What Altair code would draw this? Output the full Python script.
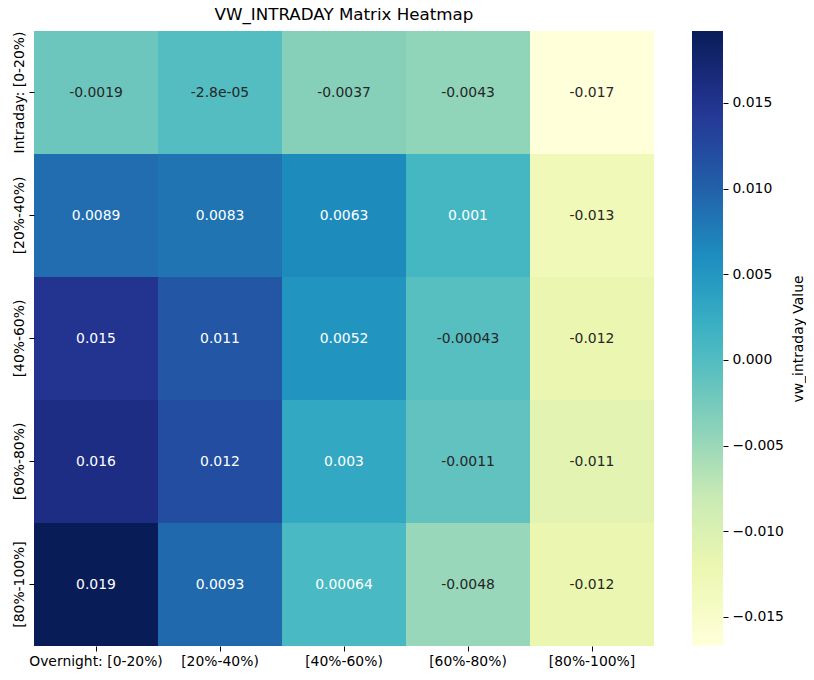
import altair as alt
import pandas as pd

overnight_bins = ["Overnight: [0-20%)", "[20%-40%)", "[40%-60%)", "[60%-80%)", "[80%-100%]"]
intraday_bins = ["Intraday: [0-20%)", "[20%-40%)", "[40%-60%)", "[60%-80%)", "[80%-100%]"]

# one list per intraday row, left to right over the overnight bins
row_0_20 = [-0.0019, -0.000028, -0.0037, -0.0043, -0.0167]
row_20_40 = [0.0089, 0.0083, 0.0063, 0.0010, -0.013]
row_40_60 = [0.015, 0.011, 0.0052, -0.00043, -0.012]
row_60_80 = [0.016, 0.012, 0.0030, -0.0011, -0.011]
row_80_100 = [0.0192, 0.0093, 0.00064, -0.0048, -0.012]

colorbar_ticks = [-0.015, -0.010, -0.005, 0.0, 0.005, 0.010, 0.015]

# colorbrewer YlGnBu, as matplotlib spreads it evenly over the value range
ylgnbu = ["#ffffd9", "#edf8b1", "#c7e9b4", "#7fcdbb", "#41b6c4",
          "#1d91c0", "#225ea8", "#253494", "#081d58"]

matrix = [row_0_20, row_20_40, row_40_60, row_60_80, row_80_100]
records = []
for row_name, row in zip(intraday_bins, matrix):
    for col_name, v in zip(overnight_bins, row):
        records.append({"intraday": row_name, "overnight": col_name,
                        "value": v, "label": format(v, ".2g")})
df = pd.DataFrame(records)

vmin = min(min(r) for r in matrix)
vmax = max(max(r) for r in matrix)
n = len(ylgnbu) - 1
color_domain = [vmin + i * (vmax - vmin) / n for i in range(n + 1)]

x_enc = alt.X("overnight:N", sort=overnight_bins, title=None,
              scale=alt.Scale(paddingInner=0, paddingOuter=0),
              axis=alt.Axis(labelAngle=0, domain=False, tickSize=5,
                            labelPadding=3, labelFontSize=13.9))
y_scale = alt.Scale(paddingInner=0, paddingOuter=0)

heat = alt.Chart(df).mark_rect().encode(
    x=x_enc,
    y=alt.Y("intraday:N", sort=intraday_bins, title=None, scale=y_scale,
            axis=alt.Axis(labelAngle=270, domain=False, tickSize=5,
                          labelPadding=3, labelFontSize=13.9,
                          labelAlign="center", labelBaseline="bottom")),
    color=alt.Color(
        "value:Q",
        scale=alt.Scale(domain=color_domain, range=ylgnbu, interpolate="rgb", nice=False),
        # only the colour strip; its ticks and labels come from the axis below
        legend=alt.Legend(orient="none", legendX=658, legendY=0, direction="vertical",
                          gradientLength=615, gradientThickness=31, title=None,
                          labelExpr="''", gradientStrokeWidth=0),
    ),
)

labels = alt.Chart(df).mark_text(fontSize=13.9).encode(
    x=x_enc,
    y=alt.Y("intraday:N", sort=intraday_bins, title=None, scale=y_scale, axis=None),
    text="label:N",
    color=alt.condition(alt.datum.value > 0.0005, alt.value("white"), alt.value("#262626")),
)

cbar = alt.Chart(pd.DataFrame({"v": colorbar_ticks})).mark_point(opacity=0).encode(
    x=alt.value(0),
    y=alt.Y("v:Q",
            scale=alt.Scale(domain=[vmin, vmax], nice=False, zero=False),
            axis=alt.Axis(orient="right", offset=69, values=colorbar_ticks, format=".3f",
                          title="vw_intraday Value", titleAngle=270, titlePadding=22,
                          titleFontSize=13.9, titleFontWeight="normal", labelFontSize=13.9,
                          tickSize=5, labelPadding=4, domain=False, grid=False)),
)

chart = alt.layer(heat, labels, cbar).resolve_scale(y="independent").properties(
    width=620,
    height=615,
    title=alt.TitleParams("VW_INTRADAY Matrix Heatmap", fontSize=16.7, fontWeight="normal",
                          anchor="middle", offset=7),
    autosize=alt.AutoSizeParams(type="none"),
    padding={"left": 26, "top": 23, "right": 152, "bottom": 30},
).configure(font="DejaVu Sans").configure_view(stroke=None).configure_axis(
    labelColor="black", tickColor="black", titleColor="black"
).configure_title(color="black")

chart.save("out.html", embed_options={"renderer": "svg", "actions": False})
